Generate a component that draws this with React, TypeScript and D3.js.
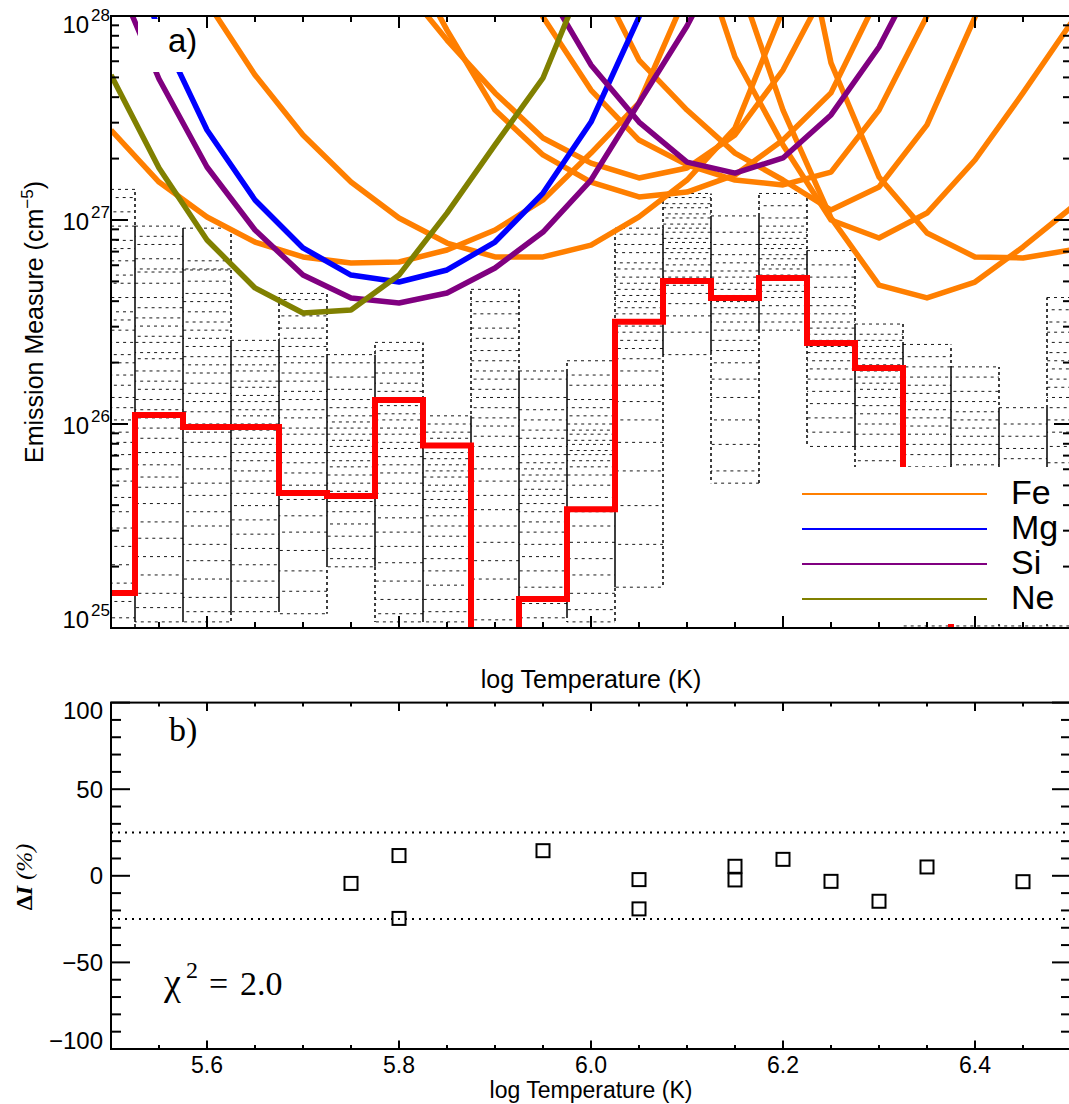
import React from "react";
import * as d3 from "d3";

const SANS = "'Liberation Sans', Arial, Helvetica, sans-serif";
const SERIF = "'Liberation Serif', 'Times New Roman', Times, serif";

// log T grid (K) shared by the EM loci and by the DEM temperature bins
const logT = [5.5, 5.55, 5.6, 5.65, 5.7, 5.75, 5.8, 5.85, 5.9, 5.95, 6.0, 6.05, 6.1, 6.15, 6.2, 6.25, 6.3, 6.35, 6.4, 6.45, 6.5];

const N = null;

// EM loci, log10 EM (cm^-5); null where the locus is not drawn
const feLocus1 = [27.441, 27.186, 27.015, 26.892, 26.819, 26.789, 26.794, 26.853, 26.951, 27.098, 27.328, 27.574, 28.113, 28.6, N, N, N, N, N, N, N];
const feLocus2 = [N, N, 28.07, 27.711, 27.417, 27.186, 27.01, 26.887, 26.819, 26.819, 26.877, 27.015, 27.196, 27.451, 28.03, 28.5, N, N, N, N, N];
const feLocus3 = [N, N, N, N, N, N, 28.17, 27.882, 27.623, 27.402, 27.279, 27.206, 27.255, 27.417, 27.735, 28.18, N, N, N, N, N];
const feLocus4 = [N, N, N, N, N, N, 28.368, 27.931, 27.539, 27.319, 27.186, 27.113, 27.137, 27.221, 27.392, 27.623, 28.103, N, N, N, N];
const feLocus5 = [N, N, N, N, N, N, N, N, 28.5, 27.995, 27.637, 27.392, 27.27, 27.196, 27.172, 27.235, 27.539, 28.0, 28.5, N, N];
const feLocus6 = [N, N, N, N, N, N, N, N, N, N, 28.25, 27.784, 27.539, 27.328, 27.196, 27.049, 27.162, 27.466, 27.995, 28.5, N];
const feLocus7 = [N, N, N, N, N, N, N, N, N, N, N, N, 28.5, 27.799, 27.368, 27.0, 26.912, 27.034, 27.294, 27.623, 27.966];
const feLocus8 = [N, N, N, N, N, N, N, N, N, N, N, N, N, 28.225, 27.539, 27.01, 26.681, 26.618, 26.696, 26.868, 27.059];
const feLocus9 = [N, N, N, N, N, N, N, N, N, N, N, N, N, N, 28.9, 27.77, 27.211, 26.936, 26.819, 26.814, 26.853];
const mgLocus = [28.5, 27.936, 27.441, 27.098, 26.863, 26.73, 26.696, 26.755, 26.892, 27.132, 27.48, 27.995, 28.6, N, N, N, N, N, N, N, N];
const siLocus1 = [28.25, 27.691, 27.26, 26.951, 26.73, 26.618, 26.593, 26.642, 26.765, 26.941, 27.196, 27.574, 27.951, 28.4, N, N, N, N, N, N, N];
const siLocus2 = [N, N, N, N, N, N, N, N, N, 28.16, 27.76, 27.48, 27.284, 27.23, 27.304, 27.515, 27.848, 28.3, N, N, N];
const neLocus = [27.711, 27.255, 26.902, 26.667, 26.544, 26.559, 26.73, 27.034, 27.368, 27.696, 28.27, 28.9, N, N, N, N, N, N, N, N, N];

// best-fit DEM, log10 EM per bin
const demLogEM = [25.172, 26.044, 25.985, 25.985, 25.662, 25.647, 26.118, 25.894, 24.5, 25.142, 25.582, 26.501, 26.701, 26.618, 26.716, 26.397, 26.275, 25.4, 24.5, 24.5, 24.5];

// Monte Carlo DEM solutions: log10 EM levels found in each bin
const mcLevels: number[][] = [
  [27.15, 27.11, 27.04, 26.97, 26.9, 26.86, 26.8, 26.73, 26.69, 26.62, 26.55, 26.51, 26.46, 26.4, 26.34, 26.3, 26.24, 26.19, 26.13, 26.08, 26.02, 25.96, 25.91, 25.85, 25.78, 25.72, 25.64, 25.57, 25.49, 25.4, 25.31, 25.22, 25.13, 25.05, 24.96],
  [26.97, 26.92, 26.88, 26.81, 26.76, 26.745, 26.69, 26.62, 26.57, 26.52, 26.48, 26.43, 26.4, 26.35, 26.32, 26.26, 26.21, 26.17, 26.12, 26.07, 26.03, 25.98, 25.93, 25.86, 25.8, 25.74, 25.69, 25.61, 25.52, 25.44, 25.35, 25.26, 25.17, 25.1, 25.03],
  [26.96, 26.8, 26.76, 26.755, 26.7, 26.64, 26.6, 26.55, 26.5, 26.46, 26.42, 26.38, 26.33, 26.29, 26.25, 26.2, 26.15, 26.11, 26.06, 26.0, 25.96, 25.91, 25.84, 25.78, 25.71, 25.65, 25.57, 25.5, 25.41, 25.33, 25.24, 25.15, 25.08, 25.03],
  [26.41, 26.36, 26.33, 26.29, 26.26, 26.21, 26.18, 26.14, 26.11, 26.07, 26.04, 26.0, 25.97, 25.93, 25.9, 25.86, 25.82, 25.77, 25.72, 25.66, 25.6, 25.53, 25.46, 25.39, 25.31, 25.23, 25.15, 25.08],
  [26.64, 26.61, 26.53, 26.47, 26.42, 26.38, 26.33, 26.3, 26.25, 26.21, 26.16, 26.12, 26.07, 26.03, 25.98, 25.95, 25.9, 25.86, 25.81, 25.76, 25.7, 25.63, 25.55, 25.47, 25.38, 25.28, 25.18, 25.07],
  [26.34, 26.3, 26.23, 26.17, 26.12, 26.08, 26.04, 26.01, 25.98, 25.95, 25.92, 25.89, 25.86, 25.82, 25.79, 25.75, 25.71, 25.67, 25.62, 25.57, 25.51, 25.45, 25.39, 25.34, 25.3],
  [26.4, 26.36, 26.3, 26.25, 26.2, 26.16, 26.12, 26.09, 26.05, 26.02, 25.98, 25.95, 25.91, 25.88, 25.84, 25.8, 25.76, 25.71, 25.66, 25.6, 25.54, 25.47, 25.4, 25.32, 25.23, 25.14, 25.07, 25.03],
  [26.04, 26.0, 25.96, 25.93, 25.89, 25.86, 25.83, 25.8, 25.77, 25.74, 25.7, 25.67, 25.63, 25.59, 25.55, 25.5, 25.45, 25.4, 25.34, 25.28, 25.21, 25.14, 25.08, 25.03],
  [26.66, 26.6, 26.54, 26.47, 26.42, 26.36, 26.31, 26.26, 26.22, 26.17, 26.13, 26.08, 26.03, 25.99, 25.94, 25.89, 25.84, 25.78, 25.72, 25.65, 25.58, 25.5, 25.42, 25.33, 25.24, 25.14, 25.04],
  [26.26, 26.22, 26.13, 26.07, 26.02, 25.97, 25.93, 25.89, 25.85, 25.81, 25.78, 25.75, 25.72, 25.68, 25.65, 25.61, 25.57, 25.52, 25.47, 25.41, 25.35, 25.28, 25.2, 25.12, 25.05],
  [26.31, 26.24, 26.19, 26.12, 26.08, 26.04, 26.0, 25.97, 25.95, 25.92, 25.9, 25.87, 25.85, 25.82, 25.79, 25.75, 25.7, 25.64, 25.57, 25.5, 25.42, 25.34, 25.26, 25.17, 25.09, 25.03],
  [26.96, 26.93, 26.88, 26.84, 26.79, 26.76, 26.72, 26.69, 26.66, 26.63, 26.6, 26.57, 26.54, 26.51, 26.48, 26.45, 26.41, 26.37, 26.32, 26.26, 26.19, 26.11, 26.02, 25.91, 25.77, 25.6, 25.41, 25.2],
  [27.13, 27.11, 27.08, 27.06, 27.03, 27.01, 26.98, 26.96, 26.94, 26.91, 26.89, 26.86, 26.84, 26.81, 26.78, 26.75, 26.72, 26.68, 26.64, 26.59, 26.53, 26.45, 26.34],
  [27.02, 26.94, 26.88, 26.83, 26.79, 26.75, 26.72, 26.69, 26.66, 26.63, 26.6, 26.57, 26.54, 26.5, 26.46, 26.41, 26.36, 26.3, 26.22, 26.13, 26.02, 25.9, 25.77, 25.71],
  [27.13, 27.07, 27.01, 26.97, 26.94, 26.91, 26.88, 26.86, 26.83, 26.81, 26.78, 26.76, 26.73, 26.71, 26.68, 26.65, 26.62, 26.58, 26.54, 26.5, 26.46],
  [26.85, 26.78, 26.72, 26.67, 26.62, 26.58, 26.54, 26.5, 26.47, 26.44, 26.41, 26.38, 26.35, 26.31, 26.27, 26.22, 26.16, 26.1, 26.03, 25.96, 25.89],
  [26.49, 26.44, 26.41, 26.38, 26.35, 26.32, 26.29, 26.26, 26.23, 26.2, 26.17, 26.13, 26.09, 26.05, 26.0, 25.95, 25.89, 25.82, 25.74, 25.65, 25.55],
  [26.39, 26.33, 26.28, 26.23, 26.19, 26.15, 26.11, 26.07, 26.03, 25.99, 25.95, 25.9, 25.85, 25.79, 25.72, 25.64, 25.55, 25.45, 25.33, 25.2, 25.08, 25.01],
  [26.28, 26.23, 26.16, 26.11, 26.06, 26.02, 25.98, 25.94, 25.9, 25.85, 25.8, 25.74, 25.67, 25.59, 25.5, 25.4, 25.29, 25.17, 25.07, 25.01],
  [26.08, 26.0, 25.94, 25.88, 25.83, 25.78, 25.73, 25.68, 25.62, 25.56, 25.49, 25.41, 25.33, 25.24, 25.15, 25.07, 25.01],
  [26.62, 26.56, 26.5, 26.45, 26.4, 26.35, 26.31, 26.27, 26.22, 26.18, 26.13, 26.08, 26.02, 25.96, 25.89, 25.81, 25.72, 25.62, 25.5, 25.37, 25.22, 25.08, 25.01],
];

// intensity residuals of the fitted lines
const resLogT = [5.75, 5.8, 5.8, 5.95, 6.05, 6.05, 6.15, 6.15, 6.2, 6.25, 6.3, 6.35, 6.45];
const resDeltaI = [-4.4, 11.7, -24.6, 14.5, -2.2, -19.1, 5.5, -2.4, 9.5, -3.2, -14.7, 5.1, -3.4];

const legendNames = ["Fe", "Mg", "Si", "Ne"];
const legendColors = ["#ff7f00", "#0000ff", "#800080", "#808000"];
const xMajorTicks = [5.6, 5.8, 6.0, 6.2, 6.4];
const emDecades = [25, 26, 27, 28];
const diMajorTicks = [-100, -50, 0, 50, 100];

const FE = "#ff7f00", MG = "#0000ff", SI = "#800080", NE = "#808000", RED = "#ff0000";

export default function App() {
  const x = d3.scaleLinear().domain([5.5, 6.5]).range([111, 1071]);
  const yEM = d3.scaleLog().domain([1e25, 1e28]).range([628, 16]);
  const em = (l: number) => yEM(Math.pow(10, l));
  const yDI = d3.scaleLinear().domain([-100, 100]).range([1049, 702.6]);

  const P = { l: 111, r: 1071, t: 16, b: 628 };
  const Q = { l: 111, r: 1071, t: 702.6, b: 1049 };

  const locusLine = d3
    .line<[number, number | null]>()
    .defined((d) => d[1] !== null)
    .x((d) => x(d[0]))
    .y((d) => em(d[1] as number));
  const locusPath = (vals: (number | null)[]) =>
    locusLine(logT.map((t, i) => [t, vals[i]] as [number, number | null])) || "";

  const demPath =
    d3
      .line<[number, number]>()
      .curve(d3.curveStep)
      .x((d) => x(d[0]))
      .y((d) => em(d[1]))(logT.map((t, i) => [t, demLogEM[i]] as [number, number])) || "";

  const xMinor = d3.range(5.55, 6.5, 0.05).map((v) => Math.round(v * 100) / 100).filter((v) => !xMajorTicks.some((m) => Math.abs(m - v) < 1e-6));
  const emMinor: number[] = [];
  [25, 26, 27].forEach((n) => d3.range(2, 10).forEach((k) => emMinor.push(k * Math.pow(10, n))));
  const diMinor = d3.range(-90, 100, 10).filter((v) => v % 50 !== 0);

  const feLoci = [feLocus1, feLocus2, feLocus3, feLocus4, feLocus5, feLocus6, feLocus7, feLocus8, feLocus9];

  // dotted boxes of the Monte Carlo solutions
  const boxes: React.ReactNode[] = [];
  mcLevels.forEach((levels, i) => {
    const t = logT[i];
    const x0 = x(Math.max(5.5, t - 0.025));
    const x1 = x(Math.min(6.5, t + 0.025));
    const hi = em(d3.max(levels) as number);
    const lo = em(d3.min(levels) as number);
    levels.forEach((l, k) => {
      const yy = em(l);
      boxes.push(
        <line key={`h${i}-${k}`} x1={x0} x2={x1} y1={yy} y2={yy} stroke="#000" strokeWidth={1} strokeOpacity={0.9} strokeDasharray="3 4" strokeDashoffset={(k * 2.3) % 7} />
      );
    });
    boxes.push(
      <line key={`vl${i}`} x1={x0} x2={x0} y1={hi} y2={lo} stroke="#000" strokeWidth={1.5} strokeDasharray="3 3" strokeDashoffset={hi + 3} />
    );
    boxes.push(
      <line key={`vr${i}`} x1={x1} x2={x1} y1={hi} y2={lo} stroke="#000" strokeWidth={1.5} strokeDasharray="3 3" strokeDashoffset={hi} />
    );
  });

  const tickStroke = { stroke: "#000", strokeWidth: 2 };

  return (
    <div style={{ position: "absolute", left: 0, top: 0 }}>
      <svg width={1069} height={1104} viewBox="0 0 1069 1104" style={{ display: "block", background: "#fff" }}>
        <defs>
          <clipPath id="clipTop">
            <rect x={P.l} y={P.t} width={P.r - P.l} height={P.b - P.t} />
          </clipPath>
        </defs>

        {/* ---------- panel a ---------- */}
        <g clipPath="url(#clipTop)">
          {boxes}
          <path d={demPath} fill="none" stroke={RED} strokeWidth={6} strokeLinejoin="miter" />
          {feLoci.map((v, i) => (
            <path key={`fe${i}`} d={locusPath(v)} fill="none" stroke={FE} strokeWidth={5.5} strokeLinejoin="round" />
          ))}
          <path d={locusPath(mgLocus)} fill="none" stroke={MG} strokeWidth={5.5} strokeLinejoin="round" />
          <path d={locusPath(siLocus1)} fill="none" stroke={SI} strokeWidth={5.5} strokeLinejoin="round" />
          <path d={locusPath(siLocus2)} fill="none" stroke={SI} strokeWidth={5.5} strokeLinejoin="round" />
          <path d={locusPath(neLocus)} fill="none" stroke={NE} strokeWidth={5.5} strokeLinejoin="round" />
        </g>

        {/* panel label */}
        <rect x={138} y={19} width={77} height={53} fill="#fff" />
        <text x={168} y={52} fontFamily={SANS} fontSize={33}>a)</text>

        {/* legend */}
        <rect x={790} y={467} width={281} height={157} fill="#fff" />
        {legendNames.map((name, i) => (
          <g key={name}>
            <line x1={802} x2={987} y1={494 + i * 35} y2={494 + i * 35} stroke={legendColors[i]} strokeWidth={2.2} />
            <text x={1011} y={504 + i * 35} fontFamily={SANS} fontSize={34}>{name}</text>
          </g>
        ))}

        {/* frame and ticks, panel a */}
        <rect x={P.l} y={P.t} width={P.r - P.l} height={P.b - P.t} fill="none" stroke="#000" strokeWidth={2} />
        {xMajorTicks.map((v) => (
          <g key={`ta${v}`}>
            <line x1={x(v)} x2={x(v)} y1={P.b} y2={P.b - 12} {...tickStroke} />
            <line x1={x(v)} x2={x(v)} y1={P.t} y2={P.t + 12} {...tickStroke} />
          </g>
        ))}
        {xMinor.map((v) => (
          <g key={`tma${v}`}>
            <line x1={x(v)} x2={x(v)} y1={P.b} y2={P.b - 6} {...tickStroke} />
            <line x1={x(v)} x2={x(v)} y1={P.t} y2={P.t + 6} {...tickStroke} />
          </g>
        ))}
        {emDecades.map((n) => {
          const yy = yEM(Math.pow(10, n));
          return (
            <g key={`dec${n}`}>
              <line x1={P.l} x2={P.l + 17} y1={yy} y2={yy} {...tickStroke} />
              <line x1={P.r} x2={P.r - 17} y1={yy} y2={yy} {...tickStroke} />
            </g>
          );
        })}
        {emMinor.map((v, i) => {
          const yy = yEM(v);
          return (
            <g key={`emm${i}`}>
              <line x1={P.l} x2={P.l + 8} y1={yy} y2={yy} {...tickStroke} />
              <line x1={P.r} x2={P.r - 8} y1={yy} y2={yy} {...tickStroke} />
            </g>
          );
        })}
        {emDecades.map((n) => {
          const yy = yEM(Math.pow(10, n));
          const base = n === 28 ? yy + 17 : n === 25 ? yy : yy + 9.5;
          return (
            <text key={`decl${n}`} x={110} y={base} textAnchor="end" fontFamily={SANS} fontSize={24}>
              10<tspan dx={2} dy={-12} fontSize={17}>{n}</tspan>
            </text>
          );
        })}
        <text transform="translate(43,322) rotate(-90)" textAnchor="middle" fontFamily={SANS} fontSize={25}>
          Emission Measure (cm<tspan dy={-10} fontSize={17}>−5</tspan><tspan dy={10}>)</tspan>
        </text>
        <text x={591} y={688} textAnchor="middle" fontFamily={SANS} fontSize={25}>log Temperature (K)</text>

        {/* ---------- panel b ---------- */}
        {[25, -25].map((v) => (
          <line key={`lim${v}`} x1={Q.l} x2={Q.r} y1={yDI(v)} y2={yDI(v)} stroke="#000" strokeWidth={2} strokeDasharray="2 5" />
        ))}
        {resLogT.map((t, i) => (
          <rect key={`sq${i}`} x={x(t) - 6.5} y={yDI(resDeltaI[i]) - 6.5} width={13} height={13} fill="none" stroke="#000" strokeWidth={2} />
        ))}
        <rect x={Q.l} y={Q.t} width={Q.r - Q.l} height={Q.b - Q.t} fill="none" stroke="#000" strokeWidth={2} />
        {xMajorTicks.map((v) => (
          <g key={`tb${v}`}>
            <line x1={x(v)} x2={x(v)} y1={Q.b} y2={Q.b - 8.5} {...tickStroke} />
            <line x1={x(v)} x2={x(v)} y1={Q.t} y2={Q.t + 8.5} {...tickStroke} />
            <text x={x(v)} y={1073} textAnchor="middle" fontFamily={SANS} fontSize={23}>{v.toFixed(1)}</text>
          </g>
        ))}
        {xMinor.map((v) => (
          <g key={`tmb${v}`}>
            <line x1={x(v)} x2={x(v)} y1={Q.b} y2={Q.b - 4} {...tickStroke} />
            <line x1={x(v)} x2={x(v)} y1={Q.t} y2={Q.t + 4} {...tickStroke} />
          </g>
        ))}
        {diMajorTicks.map((v) => {
          const yy = yDI(v);
          const base = v === 100 ? yy + 16.5 : v === -100 ? yy : yy + 8.6;
          return (
            <g key={`di${v}`}>
              <line x1={Q.l} x2={Q.l + 19} y1={yy} y2={yy} {...tickStroke} />
              <line x1={Q.r} x2={Q.r - 19} y1={yy} y2={yy} {...tickStroke} />
              <text x={103} y={base} textAnchor="end" fontFamily={SANS} fontSize={24}>{v < 0 ? `−${-v}` : `${v}`}</text>
            </g>
          );
        })}
        {diMinor.map((v) => {
          const yy = yDI(v);
          return (
            <g key={`dim${v}`}>
              <line x1={Q.l} x2={Q.l + 10} y1={yy} y2={yy} {...tickStroke} />
              <line x1={Q.r} x2={Q.r - 10} y1={yy} y2={yy} {...tickStroke} />
            </g>
          );
        })}
        <text x={169} y={741} fontFamily={SERIF} fontSize={34}>b)</text>
        <text y={995} fontFamily={SERIF} fontSize={34}>
          <tspan x={164} fontSize={38}>χ</tspan>
          <tspan x={186} dy={-17} fontSize={24}>2</tspan>
          <tspan x={209} dy={17}>=</tspan>
          <tspan x={240}>2.0</tspan>
        </text>
        <text transform="translate(32,877) rotate(-90)" textAnchor="middle" fontFamily={SERIF} fontSize={24}>
          <tspan fontWeight="bold">Δ</tspan>
          <tspan fontWeight="bold" fontStyle="italic">I</tspan>
          <tspan fontStyle="italic"> (%)</tspan>
        </text>
        <text x={591} y={1098} textAnchor="middle" fontFamily={SANS} fontSize={23}>log Temperature (K)</text>
      </svg>
    </div>
  );
}
